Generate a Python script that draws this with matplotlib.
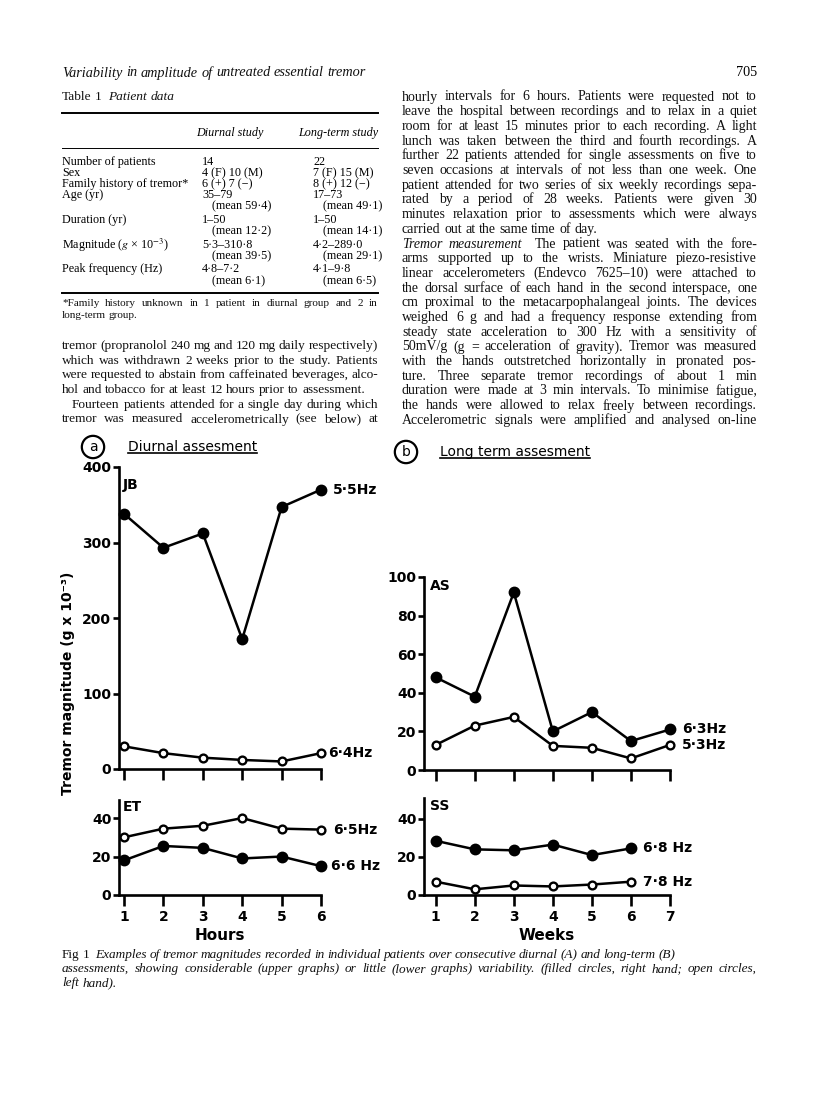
import matplotlib
matplotlib.use("Agg")
import matplotlib.pyplot as plt
from matplotlib.lines import Line2D

W, H = 816, 1110

# ---- figure data ----
hours = [1, 2, 3, 4, 5, 6]
weeks = [1, 2, 3, 4, 5, 6, 7]

jb_right = [338, 293, 312, 172, 347, 370]
jb_left = [30, 21, 15, 12, 10, 21]
et_right = [18, 25.5, 24.5, 19, 20, 15]
et_left = [30, 34.5, 36, 40, 34.5, 34]
as_right = [48, 38, 92, 20, 30, 15, 21]
as_left = [13, 23, 27.5, 12.5, 11.5, 6, 13]
ss_right = [28.5, 24, 23.5, 26.5, 21, 24.5]
ss_left = [7, 3, 5, 4.5, 5.5, 7]

jb_freq = ["5·5Hz", "6·4Hz"]
et_freq = ["6·6 Hz", "6·5Hz"]
as_freq = ["6·3Hz", "5·3Hz"]
ss_freq = ["6·8 Hz", "7·8 Hz"]

# ---- table 1 ----
table_labels = ["Number of patients", "Sex", "Family history of tremor*", "Age (yr)", "",
                "Duration (yr)", "", "Magnitude ($g$ × 10$^{-3}$)", "", "Peak frequency (Hz)", ""]
table_diurnal = ["14", "4 (F) 10 (M)", "6 (+) 7 (−)", "35–79", "(mean 59·4)", "1–50",
                 "(mean 12·2)", "5·3–310·8", "(mean 39·5)", "4·8–7·2", "(mean 6·1)"]
table_longterm = ["22", "7 (F) 15 (M)", "8 (+) 12 (−)", "17–73", "(mean 49·1)", "1–50",
                  "(mean 14·1)", "4·2–289·0", "(mean 29·1)", "4·1–9·8", "(mean 6·5)"]
table_rows_y = [162, 173, 184, 195, 206, 220, 231, 245, 256, 269, 281]

SERIF = "Liberation Serif"
SANS = ["DejaVu Sans", "Noto Sans"]
plt.rcParams["mathtext.fontset"] = "stix"

fig = plt.figure(figsize=(W / 100, H / 100), dpi=100)
renderer = fig.canvas.get_renderer()


def fx(x):
    return x / W


def fy(y):
    return 1 - y / H


# one line of body text; words starting with "_" get the other style,
# if x1 is given the words are spread to fill x0..x1
def put_line(text, x0, y, size, x1=None, style="normal"):
    tokens = text.split(" ")
    objs, widths = [], []
    for tok in tokens:
        if tok == "":
            objs.append(None)
            widths.append(0)
            continue
        st = style
        if tok.startswith("_"):
            tok = tok[1:]
            st = "normal" if style == "italic" else "italic"
        t = fig.text(0, 0, tok, fontsize=size, family=SERIF, fontstyle=st, va="center", color="#111111")
        objs.append(t)
        widths.append(t.get_window_extent(renderer).width)
    em = size * 100 / 72
    gap = em * 0.25
    if x1 is not None and len(tokens) > 1:
        gap = max((x1 - x0 - sum(widths)) / (len(tokens) - 1), em * 0.12)
    x = x0
    for t, w in zip(objs, widths):
        if t is not None:
            t.set_position((fx(x), fy(y)))
        x += w + gap


BODY = 10.0
BODY_LEFT = 9.6

# ---- page header ----
put_line("Variability in amplitude of untreated essential tremor", 62, 73, 10.3, style="italic")
fig.text(fx(757), fy(73), "705", ha="right", va="center", fontsize=10.3, family=SERIF)

# ---- left column: table ----
put_line("Table 1  _Patient _data", 62, 97, 9.6)
fig.add_artist(Line2D([fx(62), fx(378)], [fy(113), fy(113)], lw=1.4, color="black"))
fig.text(fx(230), fy(133), "Diurnal study", ha="center", va="center", fontsize=8.7,
         family=SERIF, fontstyle="italic")
fig.text(fx(378), fy(133), "Long-term study", ha="right", va="center", fontsize=8.7,
         family=SERIF, fontstyle="italic")
fig.add_artist(Line2D([fx(62), fx(378)], [fy(148), fy(148)], lw=0.7, color="black"))
for lab, d, l, yy in zip(table_labels, table_diurnal, table_longterm, table_rows_y):
    ind = 10 if d.startswith("(mean") else 0
    fig.text(fx(62), fy(yy), lab, va="center", fontsize=8.7, family=SERIF)
    fig.text(fx(202 + ind), fy(yy), d, va="center", fontsize=8.7, family=SERIF)
    fig.text(fx(313 + ind), fy(yy), l, va="center", fontsize=8.7, family=SERIF)
fig.add_artist(Line2D([fx(62), fx(378)], [fy(293), fy(293)], lw=1.4, color="black"))
put_line("*Family history unknown in 1 patient in diurnal group and 2 in", 62, 303, 8.0, x1=378)
put_line("long-term group.", 62, 315, 8.0)

left_lines = [
    ("tremor (propranolol 240 mg and 120 mg daily respectively)", True, 0),
    ("which was withdrawn 2 weeks prior to the study. Patients", True, 0),
    ("were requested to abstain from caffeinated beverages, alco-", True, 0),
    ("hol and tobacco for at least 12 hours prior to assessment.", False, 0),
    ("Fourteen patients attended for a single day during which", True, 10),
    ("tremor was measured accelerometrically (see below) at", True, 0),
]
for i, (line, just, ind) in enumerate(left_lines):
    put_line(line, 62 + ind, 346 + i * 14.7, BODY_LEFT, x1=378 if just else None)

right_lines = [
    ("hourly intervals for 6 hours. Patients were requested not to", True),
    ("leave the hospital between recordings and to relax in a quiet", True),
    ("room for at least 15 minutes prior to each recording. A light", True),
    ("lunch was taken between the third and fourth recordings. A", True),
    ("further 22 patients attended for single assessments on five to", True),
    ("seven occasions at intervals of not less than one week. One", True),
    ("patient attended for two series of six weekly recordings sepa-", True),
    ("rated by a period of 28 weeks. Patients were given 30", True),
    ("minutes relaxation prior to assessments which were always", True),
    ("carried out at the same time of day.", False),
    ("_Tremor _measurement  The patient was seated with the fore-", True),
    ("arms supported up to the wrists. Miniature piezo-resistive", True),
    ("linear accelerometers (Endevco 7625–10) were attached to", True),
    ("the dorsal surface of each hand in the second interspace, one", True),
    ("cm proximal to the metacarpophalangeal joints. The devices", True),
    ("weighed 6 g and had a frequency response extending from", True),
    ("steady state acceleration to 300 Hz with a sensitivity of", True),
    ("50mV/g (g = acceleration of gravity). Tremor was measured", True),
    ("with the hands outstretched horizontally in pronated pos-", True),
    ("ture. Three separate tremor recordings of about 1 min", True),
    ("duration were made at 3 min intervals. To minimise fatigue,", True),
    ("the hands were allowed to relax freely between recordings.", True),
    ("Accelerometric signals were amplified and analysed on-line", True),
]
for i, (line, just) in enumerate(right_lines):
    put_line(line, 402, 97 + i * 14.7, BODY, x1=757 if just else None)


# ---- figure headers ----
def header(letter, cx, cy, title, tx):
    fig.text(fx(cx), fy(cy), letter, ha="center", va="center", fontsize=10, family=SANS,
             bbox=dict(boxstyle="circle,pad=0.3", fc="none", ec="black", lw=1.6))
    t = fig.text(fx(tx), fy(cy), title, va="center", fontsize=10, family=SANS)
    bb = t.get_window_extent(renderer)
    ul = H - bb.y0 - 1
    fig.add_artist(Line2D([fx(bb.x0), fx(bb.x1)], [fy(ul), fy(ul)], lw=1.2, color="black"))


header("a", 93, 447, "Diurnal assesment", 128)
header("b", 406, 452, "Long term assesment", 440)


def panel(x0, x1, ytop, ybot, xlim, ylim, xticks, yticks, xlabels):
    ax = fig.add_axes([fx(x0), fy(ybot), (x1 - x0) / W, (ybot - ytop) / H])
    ax.set_xlim(xlim)
    ax.set_ylim(ylim)
    ax.patch.set_visible(False)
    for s in ["top", "right"]:
        ax.spines[s].set_visible(False)
    for s in ["left", "bottom"]:
        ax.spines[s].set_linewidth(1.9)
    ax.set_yticks(yticks, labels=[str(v) for v in yticks], fontsize=10, fontweight="bold")
    ax.set_xticks(xticks, labels=[str(v) for v in xticks], fontsize=10, fontweight="bold")
    ax.tick_params(axis="x", direction="out", length=8, width=1.9, pad=3)
    ax.tick_params(axis="y", direction="out", length=4, width=1.9, pad=1.5)
    if not xlabels:
        ax.tick_params(labelbottom=False)
    return ax


def series(ax, x, y, filled, label, dx=8.5):
    ax.plot(x, y, "-o", color="black", lw=1.8, ms=6.8 if filled else 5.6,
            mfc="black" if filled else "white", mec="black", mew=1.7, clip_on=False, zorder=3)
    ax.annotate(label, xy=(x[-1], y[-1]), xytext=(dx, 0), textcoords="offset points",
                va="center", fontsize=10, fontweight="bold", annotation_clip=False)


ax_jb = panel(119, 321, 467, 769, (0.873, 6), (0, 400), hours, [0, 100, 200, 300, 400], False)
series(ax_jb, hours, jb_right, True, jb_freq[0])
series(ax_jb, hours, jb_left, False, jb_freq[1], dx=5)
ax_jb.text(0.02, 0.965, "JB", transform=ax_jb.transAxes, va="top", fontsize=10, fontweight="bold")

ax_et = panel(119, 321, 800, 895, (0.873, 6), (0, 49.4), hours, [0, 20, 40], True)
series(ax_et, hours, et_right, True, et_freq[0], dx=7)
series(ax_et, hours, et_left, False, et_freq[1])
ax_et.text(0.02, 1.0, "ET", transform=ax_et.transAxes, va="top", fontsize=10, fontweight="bold")
ax_et.set_xlabel("Hours", fontsize=11, fontweight="bold", labelpad=3)

ax_as = panel(424, 670, 577, 770, (0.7, 7), (0, 100), weeks, [0, 20, 40, 60, 80, 100], False)
series(ax_as, weeks, as_right, True, as_freq[0])
series(ax_as, weeks, as_left, False, as_freq[1])
ax_as.text(0.025, 0.99, "AS", transform=ax_as.transAxes, va="top", fontsize=10, fontweight="bold")

ax_ss = panel(424, 670, 798, 895, (0.7, 7), (0, 51), weeks, [0, 20, 40], True)
series(ax_ss, weeks[:len(ss_right)], ss_right, True, ss_freq[0])
series(ax_ss, weeks[:len(ss_left)], ss_left, False, ss_freq[1])
ax_ss.text(0.025, 0.99, "SS", transform=ax_ss.transAxes, va="top", fontsize=10, fontweight="bold")
ax_ss.set_xlabel("Weeks", fontsize=11, fontweight="bold", labelpad=3)

fig.text(fx(68), fy(683), "Tremor magnitude (g x 10⁻³)", rotation=90, ha="center", va="center",
         fontsize=10, fontweight="bold", family=SANS)

# ---- caption ----
put_line("_Fig _1  Examples of tremor magnitudes recorded in individual patients over consecutive diurnal (A) and long-term (B)",
         62, 955, 9.5, x1=675, style="italic")
put_line("assessments, showing considerable (upper graphs) or little (lower graphs) variability. (filled circles, right hand; open circles,",
         62, 969, 9.5, x1=757, style="italic")
put_line("left hand).", 62, 983, 9.5, style="italic")

fig.savefig("out.png", dpi=100, facecolor="white")
